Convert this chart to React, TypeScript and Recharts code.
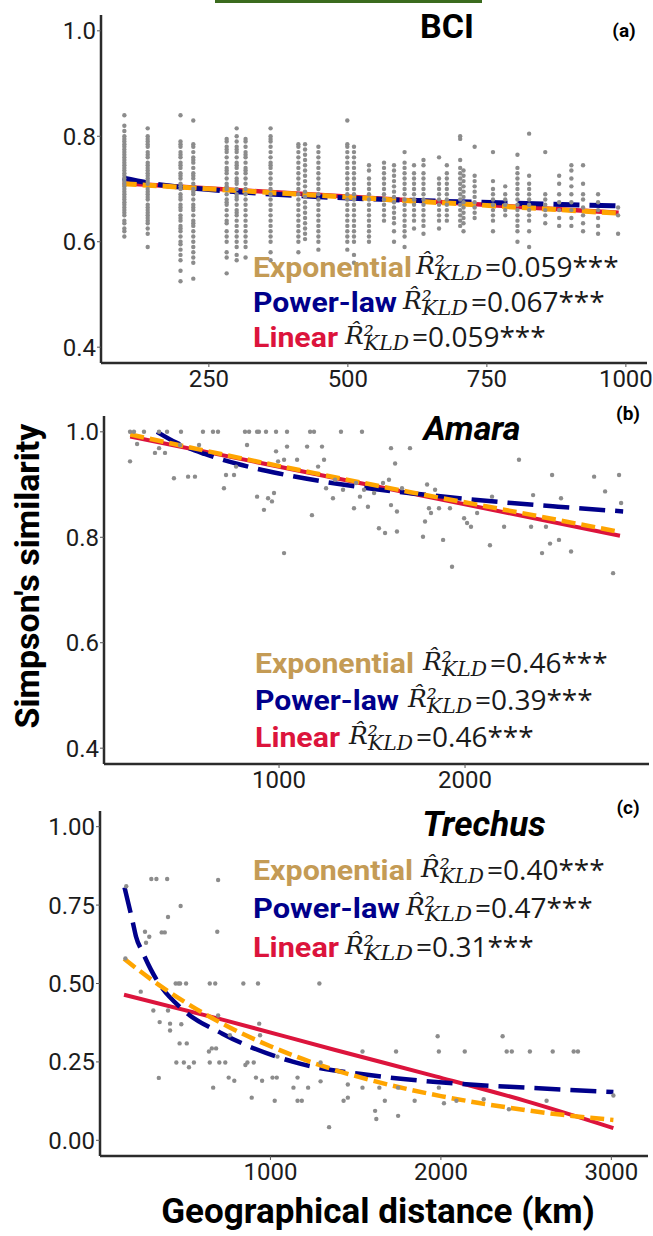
import React from 'react';
import { ComposedChart, Scatter, Line, XAxis, YAxis } from 'recharts';

// ---------------- Panel (a) BCI ----------------
const bciDistances = [98, 140, 199, 222, 282, 300, 316, 361, 411, 423, 447, 499, 511, 538, 565, 583, 602, 619, 636, 664, 678, 702, 708, 728, 761, 783, 805, 826, 855, 880, 902, 923, 950, 986];
const bciValues: number[][] = [
  [0.84, 0.82, 0.81, 0.80, 0.795, 0.79, 0.785, 0.78, 0.775, 0.77, 0.765, 0.76, 0.755, 0.75, 0.745, 0.74, 0.735, 0.73, 0.725, 0.72, 0.715, 0.71, 0.705, 0.70, 0.695, 0.69, 0.685, 0.68, 0.675, 0.67, 0.665, 0.66, 0.655, 0.65, 0.64, 0.635, 0.625, 0.62, 0.61],
  [0.815, 0.80, 0.795, 0.79, 0.785, 0.78, 0.77, 0.765, 0.76, 0.75, 0.745, 0.74, 0.735, 0.73, 0.725, 0.72, 0.715, 0.71, 0.70, 0.695, 0.69, 0.685, 0.68, 0.67, 0.665, 0.66, 0.655, 0.65, 0.645, 0.64, 0.635, 0.625, 0.615, 0.59],
  [0.84, 0.79, 0.785, 0.78, 0.77, 0.765, 0.76, 0.75, 0.745, 0.74, 0.73, 0.725, 0.72, 0.71, 0.705, 0.70, 0.69, 0.685, 0.68, 0.67, 0.665, 0.66, 0.65, 0.645, 0.64, 0.63, 0.625, 0.62, 0.61, 0.60, 0.595, 0.585, 0.575, 0.565, 0.545, 0.525],
  [0.83, 0.785, 0.78, 0.77, 0.76, 0.755, 0.75, 0.74, 0.73, 0.725, 0.72, 0.71, 0.70, 0.695, 0.69, 0.68, 0.67, 0.665, 0.66, 0.65, 0.64, 0.635, 0.63, 0.62, 0.61, 0.60, 0.59, 0.58, 0.57, 0.56, 0.53],
  [0.795, 0.79, 0.78, 0.775, 0.77, 0.76, 0.75, 0.74, 0.735, 0.73, 0.72, 0.71, 0.705, 0.70, 0.69, 0.68, 0.675, 0.67, 0.66, 0.65, 0.64, 0.635, 0.62, 0.61, 0.60, 0.58, 0.57, 0.54],
  [0.815, 0.80, 0.79, 0.78, 0.775, 0.77, 0.76, 0.75, 0.745, 0.74, 0.73, 0.72, 0.715, 0.71, 0.70, 0.69, 0.685, 0.68, 0.67, 0.66, 0.655, 0.65, 0.64, 0.63, 0.62, 0.61, 0.60, 0.59, 0.575, 0.565],
  [0.795, 0.79, 0.78, 0.77, 0.765, 0.76, 0.75, 0.74, 0.735, 0.73, 0.72, 0.71, 0.70, 0.69, 0.68, 0.67, 0.66, 0.65, 0.64, 0.63, 0.62, 0.61, 0.60, 0.59, 0.57],
  [0.815, 0.80, 0.795, 0.79, 0.78, 0.77, 0.76, 0.75, 0.745, 0.74, 0.73, 0.72, 0.71, 0.70, 0.69, 0.68, 0.67, 0.66, 0.65, 0.64, 0.63, 0.62, 0.61, 0.60, 0.58, 0.565],
  [0.785, 0.78, 0.77, 0.76, 0.75, 0.74, 0.73, 0.72, 0.71, 0.70, 0.69, 0.68, 0.67, 0.66, 0.65, 0.64, 0.63, 0.62, 0.61, 0.60, 0.58],
  [0.785, 0.775, 0.765, 0.755, 0.745, 0.735, 0.725, 0.715, 0.705, 0.695, 0.685, 0.675, 0.665, 0.655, 0.645, 0.635, 0.625, 0.615, 0.605],
  [0.78, 0.77, 0.76, 0.75, 0.74, 0.73, 0.72, 0.71, 0.70, 0.69, 0.68, 0.67, 0.66, 0.65, 0.64, 0.63, 0.62, 0.61, 0.60, 0.585],
  [0.83, 0.785, 0.78, 0.77, 0.76, 0.75, 0.74, 0.73, 0.72, 0.71, 0.70, 0.69, 0.68, 0.67, 0.66, 0.65, 0.64, 0.63, 0.62, 0.61, 0.60, 0.585],
  [0.78, 0.77, 0.76, 0.75, 0.74, 0.73, 0.72, 0.71, 0.70, 0.69, 0.68, 0.67, 0.66, 0.65, 0.64, 0.63, 0.62, 0.61, 0.60, 0.575, 0.56],
  [0.745, 0.735, 0.72, 0.71, 0.70, 0.69, 0.68, 0.67, 0.66, 0.65, 0.64, 0.63, 0.62, 0.61, 0.60],
  [0.75, 0.74, 0.73, 0.72, 0.71, 0.70, 0.69, 0.68, 0.67, 0.66, 0.65, 0.64],
  [0.745, 0.735, 0.725, 0.715, 0.705, 0.695, 0.685, 0.675, 0.665, 0.655, 0.645, 0.635, 0.62, 0.60],
  [0.77, 0.75, 0.74, 0.73, 0.72, 0.71, 0.70, 0.69, 0.68, 0.67, 0.66, 0.65, 0.64, 0.63, 0.62, 0.61, 0.59],
  [0.745, 0.73, 0.72, 0.71, 0.70, 0.69, 0.68, 0.67, 0.66, 0.65, 0.64, 0.625],
  [0.755, 0.745, 0.73, 0.72, 0.71, 0.70, 0.69, 0.68, 0.67, 0.66, 0.65, 0.64, 0.63, 0.615],
  [0.76, 0.72, 0.71, 0.70, 0.69, 0.68, 0.67, 0.66, 0.65, 0.64, 0.625],
  [0.745, 0.73, 0.72, 0.71, 0.70, 0.69, 0.68, 0.67, 0.66, 0.65, 0.64],
  [0.80, 0.795, 0.755, 0.74, 0.73, 0.72, 0.71, 0.70, 0.69, 0.68, 0.67, 0.66, 0.65, 0.64, 0.63],
  [0.735, 0.725, 0.715, 0.705, 0.695, 0.685, 0.675, 0.665, 0.655, 0.645, 0.635, 0.62],
  [0.78, 0.725, 0.715, 0.705, 0.695, 0.685, 0.675, 0.665, 0.655, 0.645],
  [0.77, 0.715, 0.70, 0.69, 0.68, 0.67, 0.66, 0.65, 0.64, 0.62],
  [0.705, 0.69, 0.68, 0.67, 0.66, 0.65],
  [0.765, 0.74, 0.73, 0.72, 0.71, 0.70, 0.69, 0.68, 0.67, 0.66, 0.65, 0.64, 0.63, 0.62, 0.60],
  [0.805, 0.725, 0.71, 0.70, 0.69, 0.68, 0.67, 0.66, 0.65, 0.64, 0.62, 0.59],
  [0.77, 0.69, 0.68, 0.67, 0.66, 0.65, 0.635],
  [0.725, 0.71, 0.69, 0.675, 0.66, 0.645, 0.63],
  [0.745, 0.735, 0.72, 0.705, 0.69, 0.675, 0.66, 0.645, 0.63],
  [0.745, 0.71, 0.69, 0.68, 0.665, 0.65, 0.635, 0.62],
  [0.69, 0.675, 0.66, 0.645, 0.63, 0.615],
  [0.665, 0.65, 0.615],
];
const bciExpX = [95, 987];
const bciExpY = [0.71, 0.654];
const bciPowX = [95, 150, 250, 400, 600, 800, 987];
const bciPowY = [0.721, 0.71, 0.699, 0.688, 0.679, 0.673, 0.668];
const bciLinX = [95, 987];
const bciLinY = [0.711, 0.655];
const bciXTicks = [250, 500, 750, 1000];
const bciYTicks = [0.4, 0.6, 0.8, 1.0];

// ---------------- Panel (b) Amara ----------------
const amaraDist = [199, 220, 274, 355, 398, 473, 591, 645, 672, 817, 839, 882, 892, 930, 984, 1043, 1167, 1188, 1333, 1446,
  199, 237, 333, 355, 387, 435, 468, 511, 548, 570, 704, 715, 758, 769, 828, 882, 919, 941, 973, 962, 984, 995, 1027, 1027, 1043,
  1097, 1151, 1177, 1210, 1231, 1242, 1253, 1290, 1301, 1344, 1403, 1414, 1435, 1457, 1478, 1511, 1537, 1559, 1570, 1591, 1602, 1602,
  1624, 1634, 1634, 1661, 1704, 1774, 1785, 1796, 1806, 1817, 1839, 1860, 1882, 1919, 1930, 1995, 2011, 2032, 2065, 2134, 2145, 2210,
  2290, 2355, 2366, 2414, 2435, 2457, 2468, 2505, 2516, 2570, 2694, 2753, 2796, 2828, 2839];
const amaraSim = [1.0, 1.0, 1.0, 1.0, 1.0, 1.0, 1.0, 1.0, 1.0, 1.0, 1.0, 1.0, 1.0, 1.0, 1.0, 1.0, 1.0, 1.0, 1.0, 1.0,
  0.944, 0.977, 0.96, 0.969, 0.96, 0.912, 0.975, 0.915, 0.915, 0.975, 0.893, 0.918, 0.918, 0.934, 0.975, 0.877, 0.852, 0.874, 0.884, 0.868, 0.963, 0.944, 0.77, 0.947, 0.972,
  0.947, 0.972, 0.842, 0.934, 0.972, 0.947, 0.893, 0.874, 0.909, 0.89, 0.855, 0.903, 0.877, 0.89, 0.858, 0.884, 0.817, 0.903, 0.808, 0.909, 0.861, 0.969,
  0.94, 0.811, 0.849, 0.893, 0.969, 0.801, 0.83, 0.9, 0.855, 0.846, 0.89, 0.855, 0.795, 0.855, 0.744, 0.836, 0.827, 0.82, 0.846, 0.785, 0.877, 0.82,
  0.947, 0.82, 0.88, 0.77, 0.82, 0.788, 0.918, 0.795, 0.874, 0.773, 0.915, 0.887, 0.732, 0.918, 0.865];
const amaraExpX = [200, 700, 1200, 1700, 2200, 2833];
const amaraExpY = [0.995, 0.957, 0.921, 0.886, 0.853, 0.81];
const amaraPowX = [344, 450, 600, 800, 1000, 1250, 1500, 1750, 2000, 2250, 2500, 2850];
const amaraPowY = [1.0, 0.979, 0.958, 0.937, 0.921, 0.905, 0.892, 0.882, 0.873, 0.865, 0.858, 0.849];
const amaraLinX = [200, 2833];
const amaraLinY = [0.991, 0.803];
const amaraXTicks = [1000, 2000];
const amaraYTicks = [0.4, 0.6, 0.8, 1.0];

// ---------------- Panel (c) Trechus ----------------
const trechusDist = [154, 149, 239, 264, 289, 270, 301, 331, 394, 399, 362, 380, 473, 313, 350, 345, 399, 411, 411, 444, 460, 470, 505,
  448, 477, 467, 509, 492, 522, 551, 644, 639, 656, 681, 644, 676, 688, 693, 664, 693, 700, 735, 755, 788, 762, 841, 927, 853, 865,
  890, 902, 915, 934, 939, 951, 1012, 1025, 1037, 1041, 1135, 1159, 1159, 1184, 1221, 1287, 1294, 1294, 1344, 1429, 1454, 1454, 1540,
  1540, 1614, 1621, 1639, 1671, 1737, 1749, 1749, 1846, 1981, 1988, 1988, 2018, 2091, 2140, 2251, 2362, 2386, 2416, 2399, 2522, 2620,
  2656, 2779, 2804, 3012];
const trechusSim = [0.81, 0.58, 0.474, 0.665, 0.649, 0.63, 0.833, 0.833, 0.833, 0.712, 0.663, 0.663, 0.747, 0.414, 0.377, 0.199, 0.414, 0.372, 0.35, 0.5, 0.5, 0.5, 0.5,
  0.248, 0.37, 0.309, 0.309, 0.248, 0.233, 0.248, 0.248, 0.283, 0.293, 0.293, 0.5, 0.5, 0.665, 0.83, 0.168, 0.398, 0.248, 0.248, 0.2, 0.19, 0.335, 0.5, 0.5, 0.24, 0.248,
  0.136, 0.248, 0.2, 0.372, 0.335, 0.19, 0.2, 0.126, 0.2, 0.267, 0.168, 0.2, 0.126, 0.126, 0.168, 0.5, 0.188, 0.248, 0.042, 0.126, 0.136, 0.178, 0.283,
  0.168, 0.094, 0.068, 0.168, 0.126, 0.283, 0.078, 0.168, 0.126, 0.332, 0.283, 0.168, 0.118, 0.126, 0.283, 0.131, 0.332, 0.283, 0.283, 0.099, 0.283, 0.126,
  0.283, 0.283, 0.283, 0.143];
const trechusExpX = [141, 300, 500, 750, 1000, 1300, 1600, 2000, 2400, 2700, 3012];
const trechusExpY = [0.579, 0.513, 0.44, 0.363, 0.30, 0.238, 0.19, 0.141, 0.104, 0.082, 0.065];
const trechusPowX = [144, 193, 211, 250, 298, 339, 485, 718, 1135, 1626, 2116, 2500, 3012];
const trechusPowY = [0.806, 0.694, 0.65, 0.6, 0.545, 0.506, 0.417, 0.34, 0.25, 0.205, 0.18, 0.168, 0.154];
const trechusLinX = [141, 718, 1380, 1969, 2500, 3012];
const trechusLinY = [0.464, 0.385, 0.288, 0.204, 0.125, 0.039];
const trechusXTicks = [1000, 2000, 3000];
const trechusYTicks = [0, 0.25, 0.5, 0.75, 1.0];

const COL_EXP = '#FFA500';
const COL_POW = '#00008B';
const COL_LIN = '#DC143C';
const COL_EXP_TXT = '#C49B55';

const toXY = (xs: number[], ys: number[]) => xs.map((x, i) => ({ x, y: ys[i] }));
const bciPoints = bciDistances.flatMap((d, i) => bciValues[i].map((y) => ({ x: d, y })));

const Dot = (props: any) => {
  const { cx, cy } = props;
  if (cx == null || cy == null) return null;
  return <circle cx={cx} cy={cy} r={2.2} fill="#8C8C8C" />;
};

type PanelProps = {
  top: number; height: number; plotTop: number; plotBottom: number; yAxisWidth: number; rightMargin: number;
  xDomain: [number, number]; yDomain: [number, number]; xTicks: number[]; yTicks: number[]; yDigits: number;
  points: { x: number; y: number }[];
  exp: { x: number; y: number }[]; pow: { x: number; y: number }[]; lin: { x: number; y: number }[];
  lw: number;
};

const tickStyle = { fill: '#1c1c1c', fontSize: 24, fontFamily: 'Roboto' };

function Panel(p: PanelProps) {
  return (
    <div style={{ position: 'absolute', left: 0, top: p.top, width: 653, height: p.height }}>
      <ComposedChart width={653} height={p.height}
        margin={{ top: p.plotTop, right: p.rightMargin, bottom: 0, left: 0 }}>
        <XAxis type="number" dataKey="x" domain={p.xDomain} ticks={p.xTicks} allowDataOverflow interval={0}
          height={p.height - p.plotBottom} axisLine={{ stroke: '#2b2b2b', strokeWidth: 2.5 }}
          tickLine={{ stroke: '#555', strokeWidth: 1 }} tickSize={4} tickMargin={3} tick={tickStyle} />
        <YAxis type="number" dataKey="y" domain={p.yDomain} ticks={p.yTicks} allowDataOverflow interval={0}
          width={p.yAxisWidth} axisLine={{ stroke: '#2b2b2b', strokeWidth: 2.5 }}
          tickLine={{ stroke: '#555', strokeWidth: 1 }} tickSize={4} tickMargin={1} tick={tickStyle}
          tickFormatter={(v: number) => v.toFixed(p.yDigits)} />
        <Scatter data={p.points} dataKey="y" shape={Dot} isAnimationActive={false} />
        <Line data={p.lin} dataKey="y" type="monotone" stroke={COL_LIN} strokeWidth={p.lw - 0.5} dot={false} isAnimationActive={false} />
        <Line data={p.pow} dataKey="y" type="monotone" stroke={COL_POW} strokeWidth={p.lw} strokeDasharray="26 10" dot={false} isAnimationActive={false} />
        <Line data={p.exp} dataKey="y" type="monotone" stroke={COL_EXP} strokeWidth={p.lw} strokeDasharray="14 6" dot={false} isAnimationActive={false} />
      </ComposedChart>
    </div>
  );
}

type StatRow = { name: string; color: string; x: number; w: number; y: number; rX: number; valX: number; val: string };

function Stat({ r }: { r: StatRow }) {
  const kldX = r.rX + 18;
  return (
    <g>
      <text x={r.x} y={r.y} fontFamily="Roboto" fontWeight="bold" fontSize={27} fill={r.color}
        textLength={r.w} lengthAdjust="spacingAndGlyphs">{r.name}</text>
      <text x={r.rX - 1} y={r.y - 3} fontFamily="DejaVu Serif" fontStyle="italic" fontSize={25} fill="#1a1a1a">{'R\u0302\u00B2'}</text>
      <text x={kldX} y={r.y + 3} fontFamily="DejaVu Serif" fontStyle="italic" fontSize={20} fill="#1a1a1a"
        textLength={r.valX - 3 - kldX} lengthAdjust="spacingAndGlyphs">KLD</text>
      <text x={r.valX} y={r.y} fontFamily="Open Sans" fontSize={28} fill="#1a1a1a">{r.val}</text>
    </g>
  );
}

const statsA: StatRow[] = [
  { name: 'Exponential', color: COL_EXP_TXT, x: 253, w: 159, y: 277, rX: 417, valX: 485, val: '=0.059***' },
  { name: 'Power-law', color: COL_POW, x: 253, w: 144, y: 312, rX: 404, valX: 471, val: '=0.067***' },
  { name: 'Linear', color: COL_LIN, x: 253, w: 85, y: 347, rX: 346, valX: 412, val: '=0.059***' },
];
const statsB: StatRow[] = [
  { name: 'Exponential', color: COL_EXP_TXT, x: 255, w: 159, y: 673, rX: 424, valX: 490, val: '=0.46***' },
  { name: 'Power-law', color: COL_POW, x: 255, w: 144, y: 710, rX: 409, valX: 475, val: '=0.39***' },
  { name: 'Linear', color: COL_LIN, x: 255, w: 85, y: 747, rX: 350, valX: 416, val: '=0.46***' },
];
const statsC: StatRow[] = [
  { name: 'Exponential', color: COL_EXP_TXT, x: 253, w: 160, y: 880, rX: 422, valX: 487, val: '=0.40***' },
  { name: 'Power-law', color: COL_POW, x: 253, w: 147, y: 918, rX: 407, valX: 475, val: '=0.47***' },
  { name: 'Linear', color: COL_LIN, x: 253, w: 86, y: 957, rX: 346, valX: 416, val: '=0.31***' },
];

export default function App() {
  return (
    <div style={{ position: 'absolute', left: 0, top: 0, width: 653, height: 1236, background: '#fff', overflow: 'hidden' }}>
      <Panel top={0} height={400} plotTop={15} plotBottom={363} yAxisWidth={101} rightMargin={6}
        xDomain={[56, 1038]} yDomain={[0.37, 1.03]} xTicks={bciXTicks} yTicks={bciYTicks} yDigits={1}
        points={bciPoints} exp={toXY(bciExpX, bciExpY)} pow={toXY(bciPowX, bciPowY)} lin={toXY(bciLinX, bciLinY)} lw={5} />
      <Panel top={400} height={400} plotTop={16} plotBottom={364} yAxisWidth={104} rightMargin={4}
        xDomain={[59, 2989]} yDomain={[0.37, 1.03]} xTicks={amaraXTicks} yTicks={amaraYTicks} yDigits={1}
        points={toXY(amaraDist, amaraSim)} exp={toXY(amaraExpX, amaraExpY)} pow={toXY(amaraPowX, amaraPowY)} lin={toXY(amaraLinX, amaraLinY)} lw={4.5} />
      <Panel top={800} height={436} plotTop={11} plotBottom={356} yAxisWidth={100} rightMargin={5}
        xDomain={[0, 3215]} yDomain={[-0.05, 1.05]} xTicks={trechusXTicks} yTicks={trechusYTicks} yDigits={2}
        points={toXY(trechusDist, trechusSim)} exp={toXY(trechusExpX, trechusExpY)} pow={toXY(trechusPowX, trechusPowY)} lin={toXY(trechusLinX, trechusLinY)} lw={4.5} />
      <svg width={653} height={1236} style={{ position: 'absolute', left: 0, top: 0, pointerEvents: 'none' }}>
        <rect x={215} y={0} width={267} height={3} fill="#3B6B1E" />
        <text x={447} y={38} textAnchor="middle" fontFamily="Roboto" fontWeight="bold" fontSize={34} fill="#000">BCI</text>
        <text x={624} y={37} textAnchor="middle" fontFamily="Roboto" fontWeight="bold" fontSize={19} fill="#000">(a)</text>
        <text x={472} y={440} textAnchor="middle" fontFamily="Roboto" fontWeight="bold" fontStyle="italic" fontSize={34} fill="#000">Amara</text>
        <text x={628} y={420} textAnchor="middle" fontFamily="Roboto" fontWeight="bold" fontSize={19} fill="#000">(b)</text>
        <text x={484} y={836} textAnchor="middle" fontFamily="Roboto" fontWeight="bold" fontStyle="italic" fontSize={35} fill="#000">Trechus</text>
        <text x={628} y={814} textAnchor="middle" fontFamily="Roboto" fontWeight="bold" fontSize={19} fill="#000">(c)</text>
        {[...statsA, ...statsB, ...statsC].map((r, i) => <Stat key={i} r={r} />)}
        <text transform="translate(39,576) rotate(-90)" textAnchor="middle" fontFamily="Roboto" fontWeight="bold" fontSize={34} fill="#000">Simpson's similarity</text>
        <text x={378} y={1223} textAnchor="middle" fontFamily="Roboto" fontWeight="bold" fontSize={35} fill="#000">Geographical distance (km)</text>
      </svg>
    </div>
  );
}
